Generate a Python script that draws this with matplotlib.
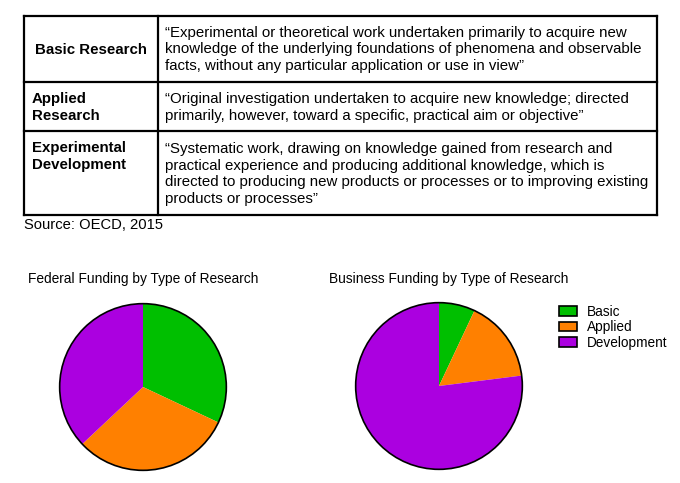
import matplotlib
matplotlib.use("Agg")
import matplotlib.pyplot as plt
from matplotlib.patches import Patch, Circle

plt.rcParams['font.family'] = ['Liberation Sans', 'DejaVu Sans']

# definitions table (OECD, 2015)
row_labels = ['Basic Research', 'Applied\nResearch', 'Experimental\nDevelopment']
row_texts = [
    "\u201cExperimental or theoretical work undertaken primarily to acquire new\n"
    "knowledge of the underlying foundations of phenomena and observable\n"
    "facts, without any particular application or use in view\u201d",
    "\u201cOriginal investigation undertaken to acquire new knowledge; directed\n"
    "primarily, however, toward a specific, practical aim or objective\u201d",
    "\u201cSystematic work, drawing on knowledge gained from research and\n"
    "practical experience and producing additional knowledge, which is\n"
    "directed to producing new products or processes or to improving existing\n"
    "products or processes\u201d",
]
source_note = 'Source: OECD, 2015'

# pie data (share of funding, %)
categories = ['Basic', 'Applied', 'Development']
federal_share = [32, 31, 37]
business_share = [7, 16, 77]
colors = ['#00bf00', '#ff8000', '#ab00e0']

W, H = 680, 483
fig = plt.figure(figsize=(W / 100, H / 100), dpi=100)
fig.patch.set_facecolor('white')

# background axes in pixel coords for the table
bg = fig.add_axes([0, 0, 1, 1])
bg.set_xlim(0, W)
bg.set_ylim(H, 0)
bg.axis('off')

left, mid, right = 24, 158, 657
row_lines = [16, 82, 131, 215]
for y in row_lines:
    bg.plot([left, right], [y, y], color='black', lw=1.6, solid_capstyle='projecting')
for x in [left, mid, right]:
    bg.plot([x, x], [row_lines[0], row_lines[-1]], color='black', lw=1.6)

txt_size = 10.8
ls = 1.25
bg.text((left + mid) / 2, 49.5, row_labels[0], ha='center', va='center',
        fontsize=txt_size, fontweight='bold')
bg.text(32, 107.5, row_labels[1], ha='left', va='center',
        fontsize=txt_size, fontweight='bold', linespacing=ls)
bg.text(32, 156.5, row_labels[2], ha='left', va='center',
        fontsize=txt_size, fontweight='bold', linespacing=ls)

text_y = [49.5, 107.5, 174]
for t, y in zip(row_texts, text_y):
    bg.text(165, y, t, ha='left', va='center', fontsize=txt_size, linespacing=ls)

bg.text(24, 225, source_note, ha='left', va='center', fontsize=10.6)

# pies
r = 85


def draw_pie(cx, cy, values, title, tx):
    ax = fig.add_axes([(cx - r) / W, (H - cy - r) / H, 2 * r / W, 2 * r / H])
    ax.pie(values, colors=colors, startangle=90, counterclock=False,
           wedgeprops=dict(linewidth=0))
    ax.add_patch(Circle((0, 0), 1, fill=False, edgecolor='black', lw=1.2))
    ax.set_xlim(-1.02, 1.02)
    ax.set_ylim(-1.02, 1.02)
    bg.text(tx, 279, title, ha='center', va='center', fontsize=9.9)


draw_pie(143, 387, federal_share, 'Federal Funding by Type of Research', 143)
draw_pie(439, 386, business_share, 'Business Funding by Type of Research', 449)

handles = [Patch(facecolor=c, edgecolor='black', lw=1.2) for c in colors]
fig.legend(handles, categories, loc='upper left',
           bbox_to_anchor=(549 / W, 1 - 295 / H), frameon=False,
           fontsize=9.8, handlelength=1.35, handleheight=0.7,
           handletextpad=0.75, labelspacing=0.12, borderpad=0.2)

fig.savefig('out.png', dpi=100, facecolor='white')
